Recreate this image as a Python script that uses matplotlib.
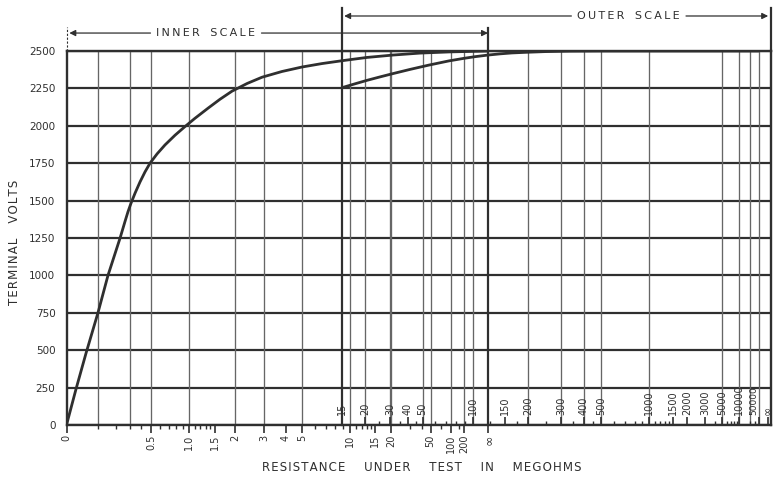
import numpy as np
import matplotlib
matplotlib.use("Agg")
import matplotlib.pyplot as plt

# ---------------- data ----------------
INF = np.inf
volt_ticks = [0, 250, 500, 750, 1000, 1250, 1500, 1750, 2000, 2250, 2500]

inner_tick_values = [0, 0.5, 1.0, 1.5, 2, 3, 4, 5, 10, 15, 20, 50, 100, 200, INF]
inner_tick_labels = ["0", "0.5", "1.0", "1.5", "2", "3", "4", "5", "10", "15",
                     "20", "50", "100", "200", "∞"]
inner_minor_values = [0.1, 0.2, 0.3, 0.4, 0.6, 0.7, 0.8, 0.9, 1.1, 1.2, 1.3, 1.4,
                      6, 7, 8, 9, 11, 12, 13, 14, 30, 40, 70, 150]
inner_grid_values = [0.1, 0.3, 0.5, 1, 2, 3, 5, 10, 20, 50, 100, 200]

outer_tick_values = [15, 20, 30, 40, 50, 100, 150, 200, 300, 400, 500, 1000,
                     1500, 2000, 3000, 5000, 10000, 50000, INF]
outer_tick_labels = ["15", "20", "30", "40", "50", "100", "150", "200", "300",
                     "400", "500", "1000", "1500", "2000", "3000", "5000",
                     "10000", "50000", "∞"]
outer_minor_values = [25, 35, 45, 60, 70, 80, 90, 125, 175, 250, 350, 450, 600,
                      700, 800, 900, 1100, 1200, 1300, 1400, 4000, 6000, 7000,
                      8000, 9000, 20000, 30000]
outer_grid_values = [20, 30, 50, 100, 200, 300, 400, 500, 1000, 5000, 10000,
                     20000, 50000]

# inner-scale curve (megohms, volts)
inner_R = [0, 0.0164, 0.0475, 0.098, 0.151, 0.228, 0.264, 0.286, 0.310, 0.344,
           0.388, 0.435, 0.485, 0.561, 0.655, 0.787, 0.935, 1.10, 1.35, 1.61,
           1.92, 2.37, 2.91, 3.81, 5.01, 6.62, 8.85, 13.1, 20.9, 37.7, 97, INF]
inner_V = [0, 240, 480, 750, 1000, 1250, 1362, 1425, 1482, 1550,
           1625, 1692, 1750, 1812, 1872, 1937, 1995, 2050, 2118, 2177,
           2232, 2283, 2325, 2363, 2393, 2416, 2435, 2457, 2473, 2486, 2494, 2500]
# outer-scale curve (megohms, volts)
outer_R = [15, 17.2, 20.6, 25.5, 31.5, 41.3, 54.9, 72.9, 89.2, 103, 122, 142,
           164, 193, 247, 336, 493, 50000]
outer_V = [2255, 2281, 2304, 2327, 2349, 2377, 2406, 2434, 2451, 2462, 2473,
           2481, 2487, 2491, 2496, 2499, 2500, 2500]

# ---------------- the two non-uniform resistance scales ----------------
# horizontal axis runs 0..1 across the chart; each scale occupies a span of it
INNER_SPAN = (0.0, 0.5983)
OUTER_SPAN = (0.3911, 0.9960)


def inner_pos(r):
    r = np.asarray(r, float)
    odds = 0.41 * np.power(r, 0.70)
    f = 1.0 - 1.0 / (1.0 + odds)
    return INNER_SPAN[0] + (INNER_SPAN[1] - INNER_SPAN[0]) * f


def outer_pos(r):
    r = np.asarray(r, float)
    odds = 0.1268 * np.power(np.maximum(r / 15.0 - 1.0, 0.0), 0.72)
    f = 1.0 - 1.0 / (1.0 + odds)
    return OUTER_SPAN[0] + (OUTER_SPAN[1] - OUTER_SPAN[0]) * f


def spaced(text, sep="\u2009", word_gap="   "):
    return word_gap.join(sep.join(w) for w in text.split())


# ---------------- figure ----------------
INK = "#2f2f2f"
GRID = "#666666"
plt.rcParams["font.family"] = ["DejaVu Sans"]

fig = plt.figure(figsize=(7.75, 4.79), dpi=100)
L, B, W, H = 66.5 / 775, 54 / 479, 704.5 / 775, 374 / 479
ax = fig.add_axes([L, B, W, H])
ax.set_xlim(0, 1)
ax.set_ylim(0, 2500)

for s in ax.spines.values():
    s.set_color(INK)
    s.set_linewidth(1.7)

# horizontal grid (volts)
ax.set_yticks(volt_ticks)
ax.set_yticklabels([str(v) for v in volt_ticks], fontsize=7.5, color=INK)
ax.tick_params(axis="y", length=0, pad=8)
ax.grid(axis="y", color=INK, lw=1.6)
ax.set_axisbelow(True)

# vertical grid lines of both scales
ax.vlines(inner_pos(inner_grid_values), 0, 2500, color=GRID, lw=0.95, zorder=1)
ax.vlines(outer_pos(outer_grid_values), 0, 2500, color=GRID, lw=0.95, zorder=1)

# heavy scale boundary lines, running up to the scale arrows
ax.axvline(float(inner_pos(INF)), ymin=0, ymax=1.062, color=INK, lw=1.6,
           clip_on=False, zorder=2)
ax.axvline(float(outer_pos(15)), ymin=0, ymax=1.115, color=INK, lw=1.6,
           clip_on=False, zorder=2)
ax.axvline(1.0, ymin=1.0, ymax=1.115, color=INK, lw=1.6, clip_on=False)
ax.axvline(0.0, ymin=1.0, ymax=1.065, color=INK, lw=0.8, ls=(0, (2, 1.5)),
           clip_on=False)

# curves
ax.plot(inner_pos(inner_R), inner_V, color=INK, lw=2.0, zorder=4,
        solid_capstyle="round", solid_joinstyle="round")
ax.plot(outer_pos(outer_R), outer_V, color=INK, lw=2.0, zorder=4,
        solid_capstyle="round", solid_joinstyle="round")

# inner scale ticks (below the axis line)
ax.set_xticks(inner_pos(inner_tick_values))
ax.set_xticklabels(inner_tick_labels, rotation=90, fontsize=7, color=INK)
ax.get_xticklabels()[-1].set_fontsize(9)
ax.set_xticks(inner_pos(inner_minor_values), minor=True)
ax.tick_params(axis="x", which="major", direction="out", length=6, width=1.2,
               pad=1.0, color=INK)
ax.tick_params(axis="x", which="minor", direction="out", length=3, width=1.0,
               color=INK)

# outer scale ticks (above the axis line) on a flat companion axes
ax2 = fig.add_axes([L, B, W, 0.0001])
ax2.set_xlim(0, 1)
ax2.patch.set_visible(False)
for s in ax2.spines.values():
    s.set_visible(False)
ax2.set_yticks([])
ax2.xaxis.tick_top()
ax2.set_xticks(outer_pos(outer_tick_values))
ax2.set_xticklabels(outer_tick_labels, rotation=90, fontsize=7, color=INK)
olabels = ax2.get_xticklabels()
olabels[-1].set_fontsize(8)
olabels[-2].set_fontsize(6.5)
olabels[-2].set_horizontalalignment("right")
ax2.set_xticks(outer_pos(outer_minor_values), minor=True)
ax2.tick_params(axis="x", which="major", direction="out", length=6, width=1.2,
                pad=1.0, color=INK, top=True, bottom=False, labeltop=True,
                labelbottom=False)
ax2.tick_params(axis="x", which="minor", direction="out", length=3, width=1.0,
                color=INK, top=True, bottom=False)

# axis titles
ax.set_ylabel(spaced("TERMINAL VOLTS", sep="\u200a", word_gap="    "),
              fontsize=8.5, color=INK)
ax.yaxis.set_label_coords(-0.0646, 0.489)
ax.set_xlabel(spaced("RESISTANCE UNDER TEST IN MEGOHMS", sep="\u200a",
                     word_gap="     "), fontsize=8.5, color=INK)
ax.xaxis.set_label_coords(0.5046, -0.097)

# scale captions with arrows
trans = ax.get_xaxis_transform()
Y_IN, Y_OUT = 1.048, 1.0936
t_in = ax.text(0.198, Y_IN, spaced("INNER SCALE"), transform=trans,
               ha="center", va="center", fontsize=8, color=INK)
t_out = ax.text(0.798, Y_OUT, spaced("OUTER SCALE"), transform=trans,
                ha="center", va="center", fontsize=8, color=INK)

fig.canvas.draw()
rend = fig.canvas.get_renderer()
inv = ax.transData.inverted()


def text_edges(t):
    bb = t.get_window_extent(rend)
    xs = inv.transform([[bb.x0, bb.y0], [bb.x1, bb.y0]])[:, 0]
    return xs[0], xs[1]


def scale_arrow(x_from, x_to, y):
    ax.annotate("", xy=(x_to, y), xytext=(x_from, y), xycoords=trans,
                textcoords=trans, annotation_clip=False,
                arrowprops=dict(arrowstyle="-|>", color=INK, lw=0.9,
                                shrinkA=0, shrinkB=0, mutation_scale=9))


gap = 6 / 704.5
x0, x1 = text_edges(t_in)
scale_arrow(x0 - gap, float(inner_pos(0)) + 0.004, Y_IN)
scale_arrow(x1 + gap, float(inner_pos(INF)), Y_IN)
x0, x1 = text_edges(t_out)
scale_arrow(x0 - gap, float(outer_pos(15)) + 0.003, Y_OUT)
scale_arrow(x1 + gap, float(outer_pos(INF)), Y_OUT)

fig.savefig("out.png", dpi=100)
